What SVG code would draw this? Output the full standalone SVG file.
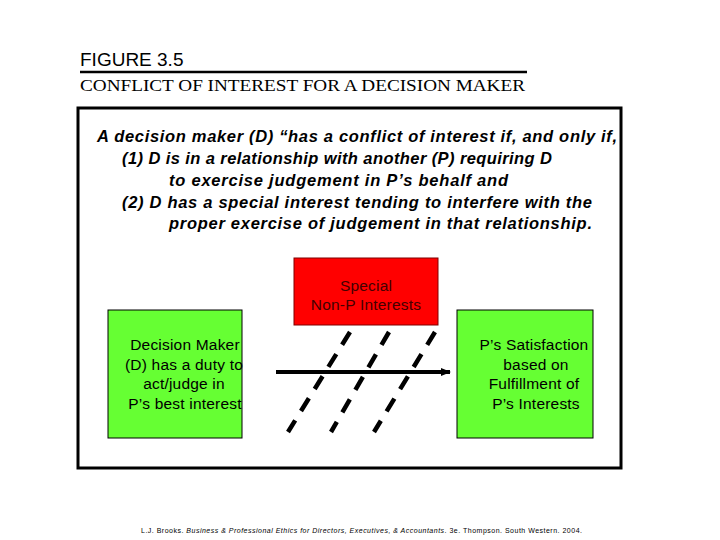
<svg xmlns="http://www.w3.org/2000/svg" width="720" height="540" viewBox="0 0 720 540">
<style>
.t{font-family:"Liberation Sans",Arial,sans-serif;fill:#000}
.b{font-family:"Liberation Sans",Arial,sans-serif;font-size:16.5px;font-weight:bold;font-style:italic}
.n{font-family:"Liberation Sans",Arial,sans-serif;font-size:15.5px;text-anchor:middle;letter-spacing:0.2px}
.d{stroke:#000;stroke-width:4.5;stroke-dasharray:15,11;fill:none}
</style>
<defs><marker id="ah" markerWidth="10" markerHeight="8" refX="9" refY="4" orient="auto" markerUnits="userSpaceOnUse"><path d="M0,0L10,4L0,8z" fill="#000"/></marker></defs>
<rect width="720" height="540" fill="#fff"/>
<text class="t" x="80" y="66" font-size="19">FIGURE 3.5</text>
<line x1="80" y1="72" x2="527" y2="72" stroke="#000" stroke-width="2.5"/>
<text x="80" y="91" font-family="Liberation Serif,serif" font-size="16" textLength="445" lengthAdjust="spacingAndGlyphs">CONFLICT OF INTEREST FOR A DECISION MAKER</text>
<rect x="78" y="108" width="543" height="360" fill="none" stroke="#000" stroke-width="3"/>
<g id="statement">
<text class="b" x="97" y="142" textLength="520">A decision maker (D) “has a conflict of interest if, and only if,</text>
<text class="b" x="122" y="164" textLength="430">(1) D is in a relationship with another (P) requiring D</text>
<text class="b" x="169" y="186" textLength="339">to exercise judgement in P’s behalf and</text>
<text class="b" x="122" y="208" textLength="470">(2) D has a special interest tending to interfere with the</text>
<text class="b" x="169" y="229" textLength="423">proper exercise of judgement in that relationship.</text>
</g>
<g id="special">
<rect x="294" y="258" width="144" height="67" fill="#ff0000" stroke="#800000"/>
<text class="n" x="366" y="291" fill="#400">Special</text>
<text class="n" x="366" y="310" fill="#400">Non-P Interests</text>
</g>
<g id="dm">
<rect x="108" y="310" width="134" height="128" fill="#66ff33" stroke="#000"/>
<text class="n" x="185" y="350">Decision Maker</text>
<text class="n" x="184" y="370">(D) has a duty to</text>
<text class="n" x="184" y="389">act/judge in</text>
<text class="n" x="185" y="409">P’s best interest</text>
</g>
<g id="ps">
<rect x="457" y="310" width="136" height="128" fill="#66ff33" stroke="#000"/>
<text class="n" x="534" y="350">P’s Satisfaction</text>
<text class="n" x="536" y="370">based on</text>
<text class="n" x="534" y="389">Fulfillment of</text>
<text class="n" x="536" y="409">P’s Interests</text>
</g>
<g id="connectors">
<line x1="276" y1="372" x2="450" y2="372" stroke="#000" stroke-width="4" marker-end="url(#ah)"/>
<line class="d" x1="350" y1="332" x2="288" y2="432"/>
<line class="d" x1="389" y1="332" x2="331" y2="432"/>
<line class="d" x1="435" y1="332" x2="374" y2="432"/>
</g>
<text x="141" y="533" font-family="Liberation Sans,Arial,sans-serif" font-size="7" textLength="441">L.J. Brooks. <tspan font-style="italic">Business &amp; Professional Ethics for Directors, Executives, &amp; Accountants</tspan>. 3e. Thompson. South Western. 2004.</text>
</svg>
